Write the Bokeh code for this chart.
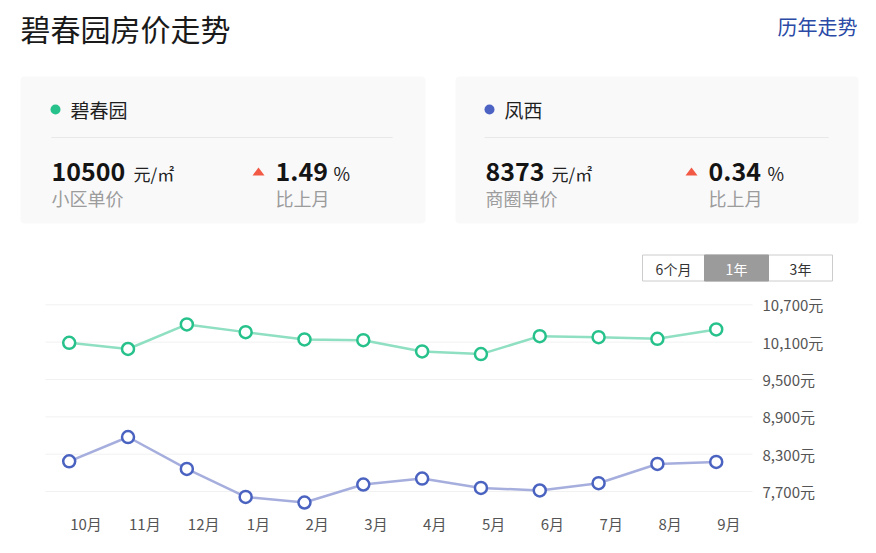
from bokeh.plotting import figure
from bokeh.models import Range1d, Label, BoxAnnotation, PolyAnnotation
from bokeh.core.properties import value
from bokeh.embed import file_html
from bokeh.resources import INLINE

# ---------------- data ----------------
months = ["10月", "11月", "12月", "1月", "2月", "3月", "4月", "5月", "6月", "7月", "8月", "9月"]
community_prices = [10090, 9990, 10384, 10261, 10143, 10132, 9951, 9908, 10196, 10180, 10154, 10304]
district_prices = [8186, 8576, 8063, 7614, 7524, 7813, 7909, 7758, 7717, 7834, 8143, 8175]
y_ticks = [7700, 8300, 8900, 9500, 10100, 10700]
y_tick_labels = [f"{v:,}元" for v in y_ticks]

title_text = "碧春园房价走势"
link_text = "历年走势"
community_name = "碧春园"
district_name = "凤西"
community_price = "10500"
district_price = "8373"
community_change = "1.49"
district_change = "0.34"
period_buttons = ["6个月", "1年", "3年"]

FONT = "Noto Sans CJK SC"
GREEN = "#27c28c"
GREEN_LINE = "#8fdfc2"
BLUE = "#4a63c0"
BLUE_LINE = "#a6aedd"
RED = "#f25a45"

# ---------------- canvas / scales ----------------
W, H = 868, 548
X0_PX, DX_PX = 68.7, 58.82          # pixel of first month, pixels per month
Y_REF_PX, Y_REF_VAL = 304.3, 10700  # pixel of the top grid value
UNITS_PER_PX = 600 / 37.35
PLOT_L, PLOT_R = 45, 752            # grid extent (pixels)


def px_to_x(X):
    return (X - X0_PX) / DX_PX


def px_to_y(Y):
    return Y_REF_VAL - (Y - Y_REF_PX) * UNITS_PER_PX


xs = list(range(len(months)))
p = figure(width=W, height=H, x_range=Range1d(px_to_x(0), px_to_x(W)),
           y_range=Range1d(px_to_y(H), px_to_y(0)),
           output_backend="svg", toolbar_location=None,
           x_axis_location=None, y_axis_location=None, min_border=0)
p.outline_line_color = None
p.xgrid.visible = False
p.ygrid.visible = False


def label(X, Y, t, size, color="#222222", style="normal", align="left", baseline="middle"):
    p.add_layout(Label(x=X, y=H - Y, x_units="screen", y_units="screen", text=t,
                       text_font=FONT, text_font_size=f"{size}px", text_color=color,
                       text_font_style=style, text_align=align, text_baseline=baseline))


def box(l, r, t, b, fill, line=None, radius=0):
    p.add_layout(BoxAnnotation(left=l, right=r, top=H - t, bottom=H - b,
                               left_units="screen", right_units="screen",
                               top_units="screen", bottom_units="screen",
                               fill_color=fill, fill_alpha=1,
                               line_color=line if line else "white", line_alpha=1 if line else 0,
                               line_width=1, border_radius=radius, level="underlay"))


# ---------------- header ----------------
label(20, 27, title_text, 30, "#1a1a1a")
label(857, 26, link_text, 20, "#2a4aa6", align="right")

cards = [
    dict(l=20, r=425, dot=GREEN, name=community_name, dx=55, tx=70, div=(51, 392),
         price=community_price, ux=133, label="小区单价", px=51,
         trix=258, cx=275, chg=community_change, pctx=333),
    dict(l=455, r=858, dot="#4d63c4", name=district_name, dx=489, tx=504, div=(484, 828),
         price=district_price, ux=551, label="商圈单价", px=485,
         trix=691, cx=708, chg=district_change, pctx=767),
]
for c in cards:
    box(c["l"], c["r"], 76, 223, "#f9f9fa", radius=4)
    box(c["dx"] - 5, c["dx"] + 5, 104, 114, c["dot"], radius=5)
    label(c["tx"], 109, c["name"], 19, "#1f1f1f")
    box(c["div"][0], c["div"][1], 136.5, 137.5, "#e8e8e8")
    label(c["px"], 171, c["price"], 25, "#141414", style="bold")
    label(c["ux"], 173, "元/㎡", 17, "#222222")
    label(c["px"], 197, c["label"], 18, "#9c9c9c")
    t = c["trix"]
    p.add_layout(PolyAnnotation(xs=[t - 6, t + 6, t], ys=[H - 175, H - 175, H - 167],
                                xs_units="screen", ys_units="screen", fill_color=RED, fill_alpha=1,
                                line_color=RED, line_alpha=0))
    label(c["cx"], 171, c["chg"], 25, "#141414", style="bold")
    label(c["pctx"], 172.5, "%", 18, "#222222")
    label(c["cx"], 197, "比上月", 18, "#9c9c9c")

# period buttons
btn_edges = [642, 704, 768, 832]
box(btn_edges[0], btn_edges[-1], 254.5, 280.5, "white", line="#cccccc")
box(btn_edges[1], btn_edges[2], 254.5, 280.5, "#9b9b9b", line="#9b9b9b")
for i, b in enumerate(period_buttons):
    cx = (btn_edges[i] + btn_edges[i + 1]) / 2
    label(cx, 268, b, 14, "white" if i == 1 else "#333333", align="center")

# ---------------- chart ----------------
n = len(y_ticks)
p.segment(x0=[px_to_x(PLOT_L)] * n, x1=[px_to_x(PLOT_R)] * n, y0=y_ticks, y1=y_ticks,
          line_color="#f1f1f1", line_width=1)
p.text(x=[px_to_x(762)] * n, y=y_ticks, text=y_tick_labels, text_font=value(FONT),
       text_font_size="15px", text_color="#555555", text_align="left", text_baseline="middle")

month_label_y = px_to_y(523)
p.text(x=xs, y=[month_label_y] * len(xs), text=months, x_offset=1, text_font=value(FONT),
       text_font_size="15px", text_color="#555555", text_align="left", text_baseline="middle")

p.line(xs, community_prices, line_color=GREEN_LINE, line_width=2.5)
p.line(xs, district_prices, line_color=BLUE_LINE, line_width=2.5)
p.scatter(xs, community_prices, marker="circle", size=12, fill_color="white",
          line_color=GREEN, line_width=2.5)
p.scatter(xs, district_prices, marker="circle", size=12, fill_color="white",
          line_color=BLUE, line_width=2.5)

open("out.html", "w").write(file_html(p, INLINE))
